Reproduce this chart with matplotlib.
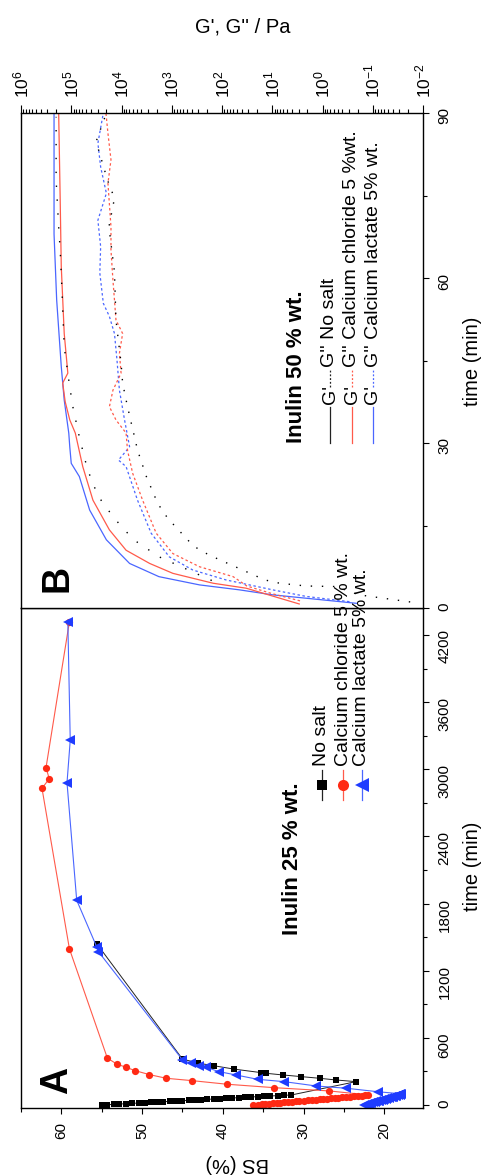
import matplotlib
matplotlib.use("Agg")
import matplotlib.pyplot as plt
from matplotlib.ticker import MultipleLocator, LogLocator

plt.rcParams['font.family'] = ['Liberation Sans', 'DejaVu Sans']
plt.rcParams['mathtext.fontset'] = 'custom'
plt.rcParams['mathtext.rm'] = 'Liberation Sans'

# ---------------- Panel A data: time (min) vs BS (%) ----------------
noSalt_t = [0, 3, 6, 9, 12, 15, 18, 21, 24, 27, 30, 33, 36, 39, 42, 45, 48, 51, 54, 57,
            60, 63, 66, 69, 72, 75, 78, 81, 84, 87, 90,
            209, 224, 239, 254, 269, 284, 290, 321, 351, 375, 411, 1440]
noSalt_bs = [55.0, 54.3, 53.5, 52.8, 52.0, 51.3, 50.4, 49.7, 48.9, 48.1, 47.4, 46.5, 45.8, 45.0,
             44.2, 43.5, 42.7, 41.9, 41.1, 40.4, 39.6, 38.8, 38.0, 37.3, 36.5, 35.7, 34.9,
             34.1, 33.2, 32.4, 31.5,
             23.5, 26.0, 28.0, 30.3, 32.6, 34.7, 35.3, 38.6, 41.1, 43.1, 45.0, 55.6]

cacl_t = [0, 3, 6, 9, 12, 15, 18, 21, 24, 27, 30, 33, 36, 39, 42, 45, 48, 51, 54, 57,
          60, 63, 66, 69, 72, 75, 78, 81, 84, 87, 90,
          126, 155, 186, 218, 239, 272, 308, 338, 365, 419, 1395, 2830, 2915, 3015, 4320]
cacl_bs = [36.2, 35.7, 35.2, 34.8, 34.3, 33.8, 33.3, 32.9, 32.4, 31.9, 31.4, 30.9, 30.5, 30.0,
           29.5, 29.0, 28.5, 28.0, 27.6, 27.1, 26.6, 26.1, 25.7, 25.2, 24.7, 24.2, 23.8,
           23.3, 22.8, 22.4, 22.0,
           26.8, 33.6, 39.5, 43.8, 47.0, 49.1, 50.9, 52.0, 53.1, 54.3, 59.0, 62.4, 61.5, 61.9, 59.0]

calac_t = [0, 4, 8, 12, 16, 20, 24, 28, 32, 36, 40, 44, 48, 52, 56, 60, 64, 68, 72, 76,
           80, 84, 88, 92, 96, 100,
           119, 150, 170, 209, 230, 269, 299, 338, 350, 374, 404, 1370, 1410, 1830, 2880, 3260, 4320]
calac_bs = [22.5, 22.3, 22.1, 21.9, 21.8, 21.6, 21.4, 21.2, 21.0, 20.8, 20.6, 20.4, 20.2, 20.0,
            19.8, 19.6, 19.4, 19.2, 19.0, 18.9, 18.7, 18.5, 18.3, 18.1, 18.0, 17.9,
            20.8, 24.7, 28.4, 32.4, 35.7, 38.4, 40.5, 42.1, 42.9, 44.0, 45.0, 55.4, 55.6, 58.1,
            59.3, 58.9, 59.2]

# ---------------- Panel B data: time (min) vs G', G'' (Pa) ----------------
gp_lac_t = [0.85, 2.4, 3.3, 4.2, 5.7, 8.1, 12.4, 17.8, 23.9, 26.3, 29.3, 31.8, 37.8, 43.9, 56, 68, 90]
gp_lac = [0.21, 10, 45, 280, 1800, 6900, 2.0e4, 4.3e4, 6.9e4, 1.0e5, 1.07e5, 1.12e5, 1.38e5,
          1.58e5, 1.95e5, 2.2e5, 2.2e5]

gp_cl_t = [0.73, 3.6, 4.5, 6.3, 8.1, 10.5, 14.2, 19.6, 25.7, 31.8, 34.2, 37.5, 40.9, 42.7, 49.9,
           62.1, 74.2, 90]
gp_cl = [2.9, 33, 150, 950, 2750, 8100, 1.74e4, 3.7e4, 5.9e4, 8.3e4, 1.07e5, 1.32e5, 1.48e5,
         1.17e5, 1.38e5, 1.58e5, 1.66e5, 1.78e5]

gpp_lac_t = [1.15, 2.1, 3.3, 5.1, 6.9, 9.3, 13.6, 19.6, 25.7, 26.9, 29.3, 34.2, 39.6, 45.1, 49.9,
             53, 55.4, 60.9, 65.7, 70.5, 75.4, 80.2, 84.5, 90]
gpp_lac = [0.29, 2.1, 9.8, 83, 380, 1120, 2570, 4800, 8100, 1.15e4, 6900, 8700, 1.1e4, 1.23e4,
           1.38e4, 1.74e4, 2.3e4, 2.7e4, 2.6e4, 2.95e4, 2.0e4, 2.6e4, 2.95e4, 2.3e4]

gpp_cl_t = [1.3, 2.6, 4.0, 5.7, 7.5, 9.9, 13.6, 19.6, 24.5, 28.7, 31.8, 34.2, 36.6, 39.6, 42.7,
            46.3, 49.9, 52.4, 56, 59.6, 65.1, 69.3, 77.2, 81.5, 86.3, 90]
gpp_cl = [2.8, 10, 32, 60, 280, 950, 2040, 3800, 6000, 7600, 8100, 1.29e4, 1.74e4, 1.48e4,
          1.02e4, 1.1e4, 9500, 1.29e4, 1.38e4, 1.48e4, 1.62e4, 1.62e4, 1.86e4, 1.62e4, 1.86e4, 2.04e4]

gp_ns_t = [5.0, 9.3, 12.1, 14.5, 16.6, 18.7, 20.5, 23.6, 26.6, 31.1, 36.6, 40.9, 47.5, 59, 65.1,
           69.3, 77.8, 89.3]
gp_ns = [160, 1780, 5100, 9500, 1.45e4, 2.2e4, 2.95e4, 4.1e4, 5.2e4, 6.9e4, 9.3e4, 1.1e5,
         1.38e5, 1.55e5, 1.66e5, 1.78e5, 2.0e5, 2.0e5]

gpp_ns_t = [1.1, 2.4, 3.9, 4.0, 4.5, 5.1, 8.9, 10.5, 12.1, 16.3, 19.0, 23.9, 28.7, 31.1, 33.9,
            37.8, 40.9, 44.5, 52.4, 61.1, 69.3, 74.5, 77.8, 84.8, 90]
gpp_ns = [0.018, 0.19, 0.54, 2.1, 7.1, 14, 120, 280, 450, 1200, 1900, 3200, 4800, 5500, 6500,
          8100, 9500, 1.02e4, 1.29e4, 1.38e4, 1.78e4, 1.38e4, 1.9e4, 3.2e4, 2.0e4]

RED = '#ff2a14'
BLUE = '#1f3cff'
RED_L = '#ff5a4a'
BLUE_L = '#4a66ff'

W, H = 500, 1176
fig = plt.figure(figsize=(W / 100, H / 100), dpi=100)
axA = fig.add_axes([21 / W, 1 - 1107.5 / H, 402 / W, 499.5 / H])
axB = fig.add_axes([21 / W, 1 - 608 / H, 402 / W, 495 / H])

for ax in (axA, axB):
    for s in ax.spines.values():
        s.set_linewidth(1.0)
    ax.tick_params(which='both', direction='out', width=0.8, labelsize=11)
    ax.tick_params(which='major', length=4.5)
    ax.tick_params(which='minor', length=2.8)

# ---- Panel A ----
axA.plot(noSalt_bs, noSalt_t, color='#222222', lw=0.7, marker='s', ms=5, mfc='black',
         mec='black', mew=0)
axA.plot(cacl_bs, cacl_t, color=RED_L, lw=0.8, marker='o', ms=5.2, mfc=RED, mec=RED, mew=0)
axA.plot(calac_bs, calac_t, color=BLUE_L, lw=0.8, marker='<', ms=6.8, mfc=BLUE, mec=BLUE, mew=0)

axA.set_xlim(65, 15.2)
axA.set_ylim(-22, 4441)
axA.xaxis.set_major_locator(MultipleLocator(10))
axA.xaxis.set_minor_locator(MultipleLocator(5))
axA.yaxis.set_major_locator(MultipleLocator(600))
axA.yaxis.set_minor_locator(MultipleLocator(300))
axA.tick_params(axis='x', which='both', bottom=True, top=False, labelbottom=True,
                labelrotation=90, pad=6)
axA.tick_params(axis='y', which='both', left=False, right=True, labelleft=False,
                labelright=True, labelrotation=90, pad=6)

# ---- Panel B ----
lw_b = 0.9
axB.plot(gp_lac, gp_lac_t, color=BLUE_L, lw=lw_b)
axB.plot(gp_cl, gp_cl_t, color=RED_L, lw=lw_b)
axB.plot(gpp_lac, gpp_lac_t, color=BLUE_L, lw=lw_b, ls=(0, (2, 2)))
axB.plot(gpp_cl, gpp_cl_t, color=RED_L, lw=lw_b, ls=(0, (2, 2)))
axB.plot(gp_ns, gp_ns_t, color='black', lw=1.0, ls=(0, (1, 9)))
axB.plot(gpp_ns, gpp_ns_t, color='black', lw=1.0, ls=(0, (1, 7)))

axB.set_xscale('log')
axB.set_xlim(1e6, 1e-2)
axB.set_ylim(0, 90)
axB.xaxis.set_major_locator(LogLocator(base=10, numticks=20))
axB.xaxis.set_minor_locator(LogLocator(base=10, subs=range(2, 10), numticks=20))
axB.yaxis.set_major_locator(MultipleLocator(30))
axB.yaxis.set_minor_locator(MultipleLocator(15))
axB.tick_params(axis='x', which='both', bottom=False, top=True, labelbottom=False,
                labeltop=True, labelrotation=90, pad=5, labelsize=12.5)
axB.tick_params(axis='x', which='major', length=6)
axB.tick_params(axis='y', which='both', left=False, right=True, labelleft=False,
                labelright=True, labelrotation=90, pad=6)


def fx(x):
    return x / W


def fy(y):
    return 1 - y / H


# axis labels
fig.text(fx(237), fy(1163), 'BS (%)', rotation=180, ha='center', va='center', fontsize=14.5)
fig.text(fx(473), fy(866), 'time (min)', rotation=90, ha='center', va='center', fontsize=14.5)
fig.text(fx(473), fy(361), 'time (min)', rotation=90, ha='center', va='center', fontsize=14.5)
fig.text(fx(243), fy(27), "G', G'' / Pa", ha='center', va='center', fontsize=14.5)

# panel letters
fig.text(fx(57), fy(1080), 'A', rotation=90, ha='center', va='center', fontsize=27,
         fontweight='bold')
fig.text(fx(57), fy(578), 'B', rotation=90, ha='center', va='center', fontsize=27,
         fontweight='bold')

# ---- Legend A (placed in figure pixels, rotated like the rest) ----
fig.text(fx(293), fy(935), 'Inulin 25 % wt.', rotation=90, rotation_mode='anchor', ha='left',
         va='center', fontsize=16, fontweight='bold')
legA = [('No salt', 322, 'black', '#222222', 's', 7),
        ('Calcium chloride 5 % wt.', 343, RED, RED_L, 'o', 8),
        ('Calcium lactate 5% wt.', 362, BLUE, BLUE_L, '<', 10)]
for name, xp, mc, lc, mk, ms in legA:
    fig.add_artist(plt.Line2D([fx(xp), fx(xp)], [fy(800), fy(770)], color=lc, lw=0.9))
    fig.add_artist(plt.Line2D([fx(xp)], [fy(785)], marker=mk, ms=ms, mfc=mc, mec=mc, mew=0,
                              ls='none'))
    fig.text(fx(xp), fy(766), name, rotation=90, rotation_mode='anchor', ha='left',
             va='center', fontsize=14)

# ---- Legend B ----
fig.text(fx(297), fy(443), 'Inulin 50 % wt.', rotation=90, rotation_mode='anchor', ha='left',
         va='center', fontsize=16, fontweight='bold')
legB = [("G'' No salt", 330, '#222222'),
        ("G'' Calcium chloride 5 %wt.", 352, RED_L),
        ("G'' Calcium lactate 5% wt.", 373, BLUE_L)]
for name, xp, lc in legB:
    fig.add_artist(plt.Line2D([fx(xp), fx(xp)], [fy(443), fy(407)], color=lc, lw=0.9))
    fig.text(fx(xp), fy(404), "G'", rotation=90, rotation_mode='anchor', ha='left',
             va='center', fontsize=14)
    fig.add_artist(plt.Line2D([fx(xp), fx(xp)], [fy(387), fy(370)], color=lc, lw=0.9,
                              ls=(0, (1.5, 1.5))))
    fig.text(fx(xp), fy(367), name, rotation=90, rotation_mode='anchor', ha='left',
             va='center', fontsize=14)

fig.savefig('out.png', dpi=100)
